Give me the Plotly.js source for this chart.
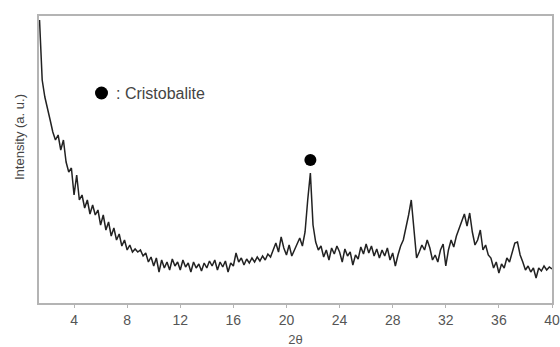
<!DOCTYPE html>
<html>
<head>
<meta charset="utf-8">
<script src="https://cdn.plot.ly/plotly-3.0.1.min.js"></script>
<style>html,body{margin:0;padding:0;background:#fff;}#chart{width:560px;height:347px;}</style>
</head>
<body>
<div id="chart"></div>
<script>
// 2θ (degrees), step 0.2 from 1.4 to 40.0
const twoTheta = [];
for (let i = 0; i <= 193; i++) twoTheta.push(+(1.4 + i * 0.2).toFixed(1));

// Intensity (a. u.)
const intensity = [
  283, 223, 206, 193, 183, 171, 163, 168, 153, 163,
  141, 131, 135, 108, 128, 103, 108, 95, 103, 89,
  98, 88, 93, 78, 88, 73, 81, 67, 75, 63,
  69, 57, 63, 53, 58, 51, 54, 51, 53, 47,
  50, 41, 46, 37, 45, 31, 43, 35, 41, 33,
  44, 37, 41, 33, 43, 36, 40, 31, 41, 35,
  39, 32, 40, 35, 42, 37, 43, 33, 41, 36,
  42, 31, 40, 37, 50, 41, 45, 38, 44, 40,
  45, 41, 46, 42, 47, 43, 49, 46, 53, 60,
  51, 66, 55, 48, 58, 47, 53, 59, 65, 57,
  71, 103, 130, 78, 61, 53, 57, 46, 53, 43,
  55, 49, 57, 51, 41, 54, 47, 51, 38, 48,
  44, 56, 49, 59, 50, 57, 47, 54, 45, 53,
  47, 55, 43, 50, 37, 48, 57, 63, 75, 88,
  103, 73, 45, 51, 58, 53, 63, 55, 43, 48,
  41, 53, 59, 37, 53, 63, 56, 67, 75, 83,
  89, 77, 90, 71, 58, 63, 73, 53, 58, 48,
  45, 35, 41, 30, 39, 35, 45, 41, 51, 60,
  61, 48, 41, 33, 37, 31, 35, 25, 35, 32,
  37, 33, 36, 34
];

// Cristobalite peak marker
const peakX = [21.8];
const peakY = [143];

const traces = [
  {
    x: twoTheta, y: intensity, type: 'scatter', mode: 'lines',
    line: {color: '#222', width: 1.5}, hoverinfo: 'skip'
  },
  {
    x: peakX, y: peakY, type: 'scatter', mode: 'markers',
    marker: {color: '#000', size: 12}, hoverinfo: 'skip'
  }
];

const axisCommon = {
  showgrid: false, zeroline: false, showline: true, mirror: true,
  linecolor: '#b4b4b4', linewidth: 2
};

const layout = {
  width: 560, height: 347,
  margin: {l: 39, r: 8, t: 16, b: 44},
  paper_bgcolor: '#fff', plot_bgcolor: '#fff',
  showlegend: false,
  font: {family: 'Liberation Sans, Arial, sans-serif', color: '#444', size: 13},
  xaxis: Object.assign({}, axisCommon, {
    range: [1.36, 40],
    tickvals: [4, 8, 12, 16, 20, 24, 28, 32, 36, 40],
    ticks: 'outside', ticklen: 3, tickcolor: '#b4b4b4', tickwidth: 1,
    tickfont: {size: 14, color: '#555'},
    title: {text: '2θ', font: {size: 13, color: '#555'}, standoff: 9}
  }),
  yaxis: Object.assign({}, axisCommon, {
    range: [0, 287], showticklabels: false, ticks: ''
  }),
  annotations: [
    {
      text: 'Intensity (a. u.)', xref: 'paper', yref: 'paper',
      x: (19 - 39) / 513, y: (303 - 137) / 287, xanchor: 'center', yanchor: 'middle',
      textangle: -90, showarrow: false,
      font: {size: 13, color: '#444'}
    },
    {
      text: ': Cristobalite', xref: 'paper', yref: 'paper',
      x: (114 - 39) / 513, y: (303 - 93) / 287, xanchor: 'left', yanchor: 'middle',
      showarrow: false, font: {size: 16, color: '#444'}
    }
  ],
  shapes: [
    {
      type: 'circle', xref: 'paper', yref: 'paper',
      x0: (95 - 39) / 513, x1: (108 - 39) / 513,
      y0: (303 - 99.5) / 287, y1: (303 - 86.5) / 287,
      fillcolor: '#000', line: {color: '#000', width: 0}
    }
  ]
};

Plotly.newPlot('chart', traces, layout, {displayModeBar: false, staticPlot: true});
</script>
</body>
</html>
